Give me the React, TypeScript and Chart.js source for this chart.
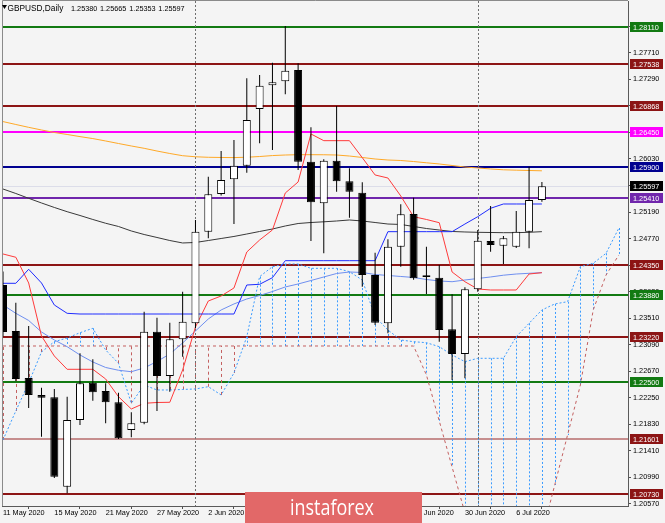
import React, { useEffect, useRef } from "react";
import { Chart, registerables } from "chart.js";

Chart.register(...registerables);

const dates = [
  "11 May 2020", "12 May 2020", "13 May 2020", "14 May 2020", "15 May 2020",
  "18 May 2020", "19 May 2020", "20 May 2020", "21 May 2020", "22 May 2020",
  "25 May 2020", "26 May 2020", "27 May 2020", "28 May 2020", "29 May 2020",
  "1 Jun 2020", "2 Jun 2020", "3 Jun 2020", "4 Jun 2020", "5 Jun 2020",
  "8 Jun 2020", "9 Jun 2020", "10 Jun 2020", "11 Jun 2020", "12 Jun 2020",
  "15 Jun 2020", "16 Jun 2020", "17 Jun 2020", "18 Jun 2020", "19 Jun 2020",
  "22 Jun 2020", "23 Jun 2020", "24 Jun 2020", "25 Jun 2020", "26 Jun 2020",
  "29 Jun 2020", "30 Jun 2020", "1 Jul 2020", "2 Jul 2020", "3 Jul 2020",
  "6 Jul 2020", "7 Jul 2020", "8 Jul 2020",
];

const opens = [1.24035, 1.23307, 1.22564, 1.22295, 1.22258, 1.20844, 1.21899, 1.22489, 1.22358, 1.22179,
  1.21741, 1.21856, 1.23296, 1.22595, 1.23176, 1.23429, 1.24879, 1.25475, 1.25708, 1.25923,
  1.26820, 1.27195, 1.27258, 1.27437, 1.25986, 1.25328, 1.26002, 1.25676, 1.25496, 1.24193,
  1.23429, 1.24641, 1.25159, 1.24160, 1.24151, 1.23334, 1.22943, 1.23967, 1.24731, 1.24657,
  1.24641, 1.24878, 1.25380];
const highs = [1.24250, 1.23755, 1.23386, 1.22410, 1.22390, 1.22268, 1.22955, 1.22860, 1.22480, 1.22332,
  1.22021, 1.23613, 1.23518, 1.23439, 1.23929, 1.25064, 1.25749, 1.26155, 1.26330, 1.27306,
  1.27358, 1.27553, 1.28133, 1.27543, 1.26531, 1.26024, 1.26867, 1.25882, 1.25660, 1.24546,
  1.24758, 1.25312, 1.25417, 1.24641, 1.24352, 1.23888, 1.23999, 1.24905, 1.25285, 1.24811,
  1.25206, 1.25907, 1.25665];
const lows = [1.23220, 1.22516, 1.22089, 1.21635, 1.20981, 1.20739, 1.21820, 1.22205, 1.21846, 1.21600,
  1.21625, 1.21831, 1.22041, 1.22347, 1.22901, 1.23350, 1.24774, 1.25450, 1.25000, 1.25812,
  1.26277, 1.26171, 1.27053, 1.25855, 1.24731, 1.24537, 1.25512, 1.25100, 1.24009, 1.23402,
  1.23271, 1.24325, 1.24120, 1.23893, 1.23138, 1.22532, 1.22559, 1.23930, 1.24562, 1.24367,
  1.24620, 1.24616, 1.25353];
const closes = [1.23292, 1.22548, 1.22295, 1.22252, 1.20999, 1.21899, 1.22480, 1.22337, 1.22179, 1.21610,
  1.21847, 1.23296, 1.22595, 1.23176, 1.23455, 1.24879, 1.25470, 1.25697, 1.25923, 1.26646,
  1.27189, 1.27242, 1.27426, 1.25986, 1.25344, 1.26002, 1.25676, 1.25512, 1.24193, 1.23439,
  1.24641, 1.25154, 1.24141, 1.24190, 1.23323, 1.22943, 1.23967, 1.24736, 1.24668, 1.24774,
  1.24878, 1.25380, 1.25597];

const tenkan = [1.24526, 1.24474, 1.24067, 1.23228, 1.22912, 1.22701, 1.22701, 1.22701, 1.22548, 1.22268,
  1.22073, 1.22163, 1.22176, 1.22179, 1.22690, 1.23371, 1.23782, 1.23861, 1.23988, 1.24557,
  1.24747, 1.24906, 1.25491, 1.25665, 1.26425, 1.26319, 1.26319, 1.26319, 1.26050, 1.25776,
  1.25728, 1.25444, 1.25116, 1.25072, 1.25021, 1.24241, 1.24087, 1.23972, 1.23956, 1.23956,
  1.23956, 1.24209, 1.24230];
const kijun = [1.24062, 1.24062, 1.24284, 1.24067, 1.23719, 1.23587, 1.23576, 1.23576, 1.23576, 1.23576,
  1.23576, 1.23576, 1.23576, 1.23576, 1.23576, 1.23576, 1.23576, 1.23576, 1.23576, 1.24035,
  1.24046, 1.24151, 1.24420, 1.24420, 1.24420, 1.24420, 1.24420, 1.24420, 1.24420, 1.24420,
  1.24879, 1.24879, 1.24879, 1.24879, 1.24879, 1.24879, 1.25000, 1.25116, 1.25249, 1.25317,
  1.25317, 1.25317, 1.25317];
const spanA = [1.21583, 1.22042, 1.22485, 1.22975, 1.23138, 1.23197, 1.23280, 1.23350, 1.23007, 1.22796,
  1.22163, 1.22453, 1.22374, 1.22374, 1.22382, 1.22390, 1.22426, 1.22295, 1.22643, 1.23217,
  1.24167, 1.24325, 1.24368, 1.24368, 1.24299, 1.24299, 1.24299, 1.24246, 1.24114, 1.23534,
  1.23323, 1.23165, 1.23138, 1.23122, 1.23059, 1.22928, 1.22822, 1.22875, 1.22875, 1.22875,
  1.23217, 1.23429, 1.23640, 1.23735, 1.23771, 1.24325, 1.24379, 1.24537, 1.24937];
const spanB = [1.2307, 1.2307, 1.2307, 1.2307, 1.2307, 1.2307, 1.2307, 1.2307, 1.2307, 1.2307,
  1.2307, 1.2307, 1.2307, 1.2307, 1.2307, 1.2307, 1.2307, 1.2307, 1.2307, 1.2307,
  1.2307, 1.2307, 1.2307, 1.2307, 1.2307, 1.2307, 1.2307, 1.2307, 1.2307, 1.2307,
  1.2307, 1.2307, 1.2307, 1.22611, 1.21883, 1.21155, 1.20428, 1.2000, 1.2000, 1.2000,
  1.2000, 1.2000, 1.20079, 1.20871, 1.21662, 1.22453, 1.23640, 1.24193, 1.24510];

const maOrange = [1.26621, 1.26575, 1.26530, 1.26488, 1.26448, 1.26417, 1.26383, 1.26352, 1.26314, 1.26274,
  1.26235, 1.26198, 1.26155, 1.26116, 1.26081, 1.26064, 1.26056, 1.26053, 1.26051, 1.26057,
  1.26068, 1.26083, 1.26092, 1.26097, 1.26097, 1.26096, 1.26092, 1.26076, 1.26053, 1.26029,
  1.26013, 1.26005, 1.25989, 1.25969, 1.25950, 1.25926, 1.25902, 1.25887, 1.25871, 1.25858,
  1.25852, 1.25847, 1.25842];
const maBlack = [1.25554, 1.25483, 1.25407, 1.25333, 1.25262, 1.25195, 1.25135, 1.25072, 1.25012, 1.24961,
  1.24890, 1.24834, 1.24787, 1.24739, 1.24700, 1.24708, 1.24739, 1.24771, 1.24803, 1.24842,
  1.24882, 1.24921, 1.24969, 1.25008, 1.25024, 1.25035, 1.25048, 1.25064, 1.25048, 1.25024,
  1.25000, 1.24993, 1.24961, 1.24929, 1.24905, 1.24882, 1.24874, 1.24869, 1.24866, 1.24863,
  1.24863, 1.24869, 1.24879];
const maBlue = [1.23719, 1.23587, 1.23474, 1.23292, 1.23165, 1.23059, 1.22928, 1.22817, 1.22730, 1.22686,
  1.22663, 1.22722, 1.22825, 1.22943, 1.23118, 1.23307, 1.23497, 1.23640, 1.23735, 1.23814,
  1.23869, 1.23932, 1.24004, 1.24051, 1.24106, 1.24162, 1.24217, 1.24241, 1.24233, 1.24201,
  1.24186, 1.24170, 1.24154, 1.24122, 1.24099, 1.24087, 1.24114, 1.24138, 1.24162, 1.24190,
  1.24209, 1.24220, 1.24230];

const levelPrices = [1.2811, 1.27538, 1.26868, 1.2645, 1.259, 1.2541, 1.2435, 1.2388, 1.2322, 1.225, 1.21601, 1.2073];
const levelLineColors = ["#127a12", "#8c1414", "#8c1414", "#ff00ff", "#000090", "#7026ac", "#8c1414", "#127a12", "#8c1414", "#127a12", "#c68e8e", "#8c1414"];
const levelBoxColors = ["#127a12", "#8c1414", "#8c1414", "#ff00ff", "#000090", "#7026ac", "#8c1414", "#127a12", "#8c1414", "#127a12", "#8c1414", "#8c1414"];
const lastPrice = 1.25597;

const priceTicks = [1.2057, 1.2099, 1.2141, 1.2183, 1.2225, 1.2267, 1.2309, 1.2351, 1.2393, 1.2435,
  1.2477, 1.2519, 1.2561, 1.2603, 1.2645, 1.2687, 1.2729, 1.2771, 1.2813];
const dateTicks = [0, 4, 8, 12, 16, 20, 24, 28, 32, 36, 40];
const monthStarts = [15, 37];

const titleName = "GBPUSD,Daily";
const titleValues = ["1.25380", "1.25665", "1.25353", "1.25597"];

const AXIS_FONT = '7.3px "Liberation Sans", Arial, sans-serif';

const mt4Plugin = {
  id: "mt4",
  beforeDraw(chart: any) {
    const ctx = chart.ctx;
    ctx.save();
    ctx.fillStyle = "#f4f4f4";
    ctx.fillRect(0, 0, chart.width, chart.height);
    ctx.restore();
  },
  beforeDatasetsDraw(chart: any) {
    const { ctx, chartArea: a, scales } = chart;
    const xs = scales.x;
    const ys = scales.y;
    ctx.save();
    ctx.beginPath();
    ctx.rect(a.left, a.top, a.right - a.left, a.bottom - a.top);
    ctx.clip();

    levelPrices.forEach((p, k) => {
      const yp = Math.round(ys.getPixelForValue(p));
      ctx.fillStyle = levelLineColors[k];
      ctx.fillRect(a.left, yp - 1, a.right - a.left, 2);
    });

    const yc = Math.round(ys.getPixelForValue(lastPrice)) + 0.5;
    ctx.strokeStyle = "#dcdde9";
    ctx.lineWidth = 1;
    ctx.beginPath();
    ctx.moveTo(a.left, yc);
    ctx.lineTo(a.right, yc);
    ctx.stroke();

    for (let i = 0; i < spanA.length; i++) {
      const px = Math.round(xs.getPixelForValue(i)) + 0.5;
      const ya = ys.getPixelForValue(spanA[i]);
      const yb = ys.getPixelForValue(spanB[i]);
      const up = spanA[i] >= spanB[i];
      ctx.strokeStyle = up ? "#3c9cff" : "#c46060";
      ctx.setLineDash(up ? [2, 2] : [3, 3]);
      ctx.beginPath();
      ctx.moveTo(px, ya);
      ctx.lineTo(px, yb);
      ctx.stroke();
    }

    ctx.strokeStyle = "#6e6e6e";
    ctx.setLineDash([2, 2]);
    monthStarts.forEach((m) => {
      const px = Math.round(xs.getPixelForValue(m)) + 0.5;
      ctx.beginPath();
      ctx.moveTo(px, a.top);
      ctx.lineTo(px, a.bottom);
      ctx.stroke();
    });
    ctx.setLineDash([]);
    ctx.restore();
  },
  afterDraw(chart: any) {
    const { ctx, chartArea: a, scales } = chart;
    const ys = scales.y;
    ctx.save();
    ctx.strokeStyle = "#8a8a8a";
    ctx.lineWidth = 1;
    ctx.beginPath();
    ctx.moveTo(a.left + 0.5, a.bottom);
    ctx.lineTo(a.left + 0.5, a.top - 0.5);
    ctx.lineTo(a.right, a.top - 0.5);
    ctx.stroke();

    ctx.font = AXIS_FONT;
    ctx.textBaseline = "middle";
    ctx.textAlign = "left";
    const box = (p: number, color: string) => {
      const yp = Math.round(ys.getPixelForValue(p));
      ctx.fillStyle = color;
      ctx.fillRect(a.right + 2, yp - 5, 33, 10);
      ctx.fillStyle = "#ffffff";
      ctx.fillText(p.toFixed(5), a.right + 5, yp + 0.5);
    };
    levelPrices.forEach((p, k) => box(p, levelBoxColors[k]));
    box(lastPrice, "#000000");

    ctx.fillStyle = "#000000";
    ctx.beginPath();
    ctx.moveTo(2, 5);
    ctx.lineTo(7, 5);
    ctx.lineTo(4.5, 9);
    ctx.closePath();
    ctx.fill();
    ctx.textBaseline = "alphabetic";
    ctx.font = '8.3px "Liberation Sans", Arial, sans-serif';
    ctx.fillText(titleName, 7.5, 10.5);
    ctx.font = AXIS_FONT;
    const tx = [71, 100, 129.3, 158.3];
    titleValues.forEach((t, k) => ctx.fillText(t, tx[k], 10.5));

    ctx.fillStyle = "#e26868";
    ctx.fillRect(245, 492, 177, 31);
    ctx.fillStyle = "#ffffff";
    ctx.font = '21px "Open Sans", "Noto Sans", sans-serif';
    ctx.textAlign = "left";
    const w = ctx.measureText("instaforex").width;
    ctx.translate(290, 514.5);
    ctx.scale(84 / w, 1);
    ctx.fillText("instaforex", 0, 0);
    ctx.restore();
  },
};

export default function App() {
  const ref = useRef<HTMLCanvasElement | null>(null);

  useEffect(() => {
    if (!ref.current) return;
    const idx = (arr: number[]) => arr.map((v, i) => ({ x: i, y: v }));
    const line = (data: number[], color: string, order: number, dash: number[] = []) => ({
      type: "line" as const,
      data: idx(data),
      borderColor: color,
      borderWidth: 1,
      borderDash: dash,
      pointRadius: 0,
      tension: 0,
      fill: false,
      order,
    });

    const chart = new Chart(ref.current, {
      type: "bar",
      data: {
        datasets: [
          {
            type: "bar",
            label: "body",
            data: opens.map((o, i) => ({ x: i, y: [o, closes[i]] })) as any,
            backgroundColor: opens.map((o, i) => (closes[i] >= o ? "#ffffff" : "#000000")),
            borderColor: "#000000",
            borderWidth: 1,
            borderSkipped: false,
            barThickness: 8,
            grouped: false,
            inflateAmount: 0,
            order: 0,
          } as any,
          {
            type: "bar",
            label: "wick",
            data: highs.map((h, i) => ({ x: i, y: [lows[i], h] })) as any,
            backgroundColor: "#000000",
            borderWidth: 0,
            barThickness: 1,
            grouped: false,
            inflateAmount: 0,
            order: 1,
          } as any,
          line(spanA, "#3c9cff", 5, [2, 2]) as any,
          line(spanB, "#c46060", 5, [3, 3]) as any,
          line(maOrange, "#ffa928", 4) as any,
          line(maBlack, "#3a3a3a", 4) as any,
          line(maBlue, "#6f8ff0", 3) as any,
          line(kijun, "#1f2cff", 2) as any,
          line(tenkan, "#ff3b3b", 2) as any,
        ],
      },
      options: {
        responsive: false,
        maintainAspectRatio: false,
        devicePixelRatio: 1,
        animation: false,
        layout: { padding: { left: 2, top: 1, right: 0, bottom: 0 } },
        plugins: { legend: { display: false }, tooltip: { enabled: false } },
        scales: {
          x: {
            type: "linear",
            min: -0.078,
            max: 48.71,
            offset: false,
            grid: { display: true, drawOnChartArea: false, drawTicks: true, tickLength: 3, color: "#505050" },
            border: { display: true, color: "#5a5a5a" },
            ticks: {
              autoSkip: false,
              maxRotation: 0,
              align: "start",
              padding: 0,
              color: "#000000",
              font: { family: '"Liberation Sans", Arial, sans-serif', size: 7.3 },
              callback: (v: any) => dates[Number(v)] ?? "",
            },
            afterBuildTicks: (s: any) => {
              s.ticks = dateTicks.map((v) => ({ value: v }));
            },
            afterFit: (s: any) => {
              s.height = 17;
              s.paddingLeft = 0;
              s.paddingRight = 0;
            },
          },
          y: {
            type: "linear",
            position: "right",
            min: 1.20538,
            max: 1.28529,
            grid: { display: true, drawOnChartArea: false, drawTicks: true, tickLength: 3, color: "#505050" },
            border: { display: true, color: "#5a5a5a" },
            ticks: {
              autoSkip: false,
              padding: 2,
              color: "#000000",
              font: { family: '"Liberation Sans", Arial, sans-serif', size: 7.3 },
              callback: (v: any) => Number(v).toFixed(5),
            },
            afterBuildTicks: (s: any) => {
              s.ticks = priceTicks.map((v) => ({ value: v }));
            },
            afterFit: (s: any) => {
              s.width = 37;
              s.paddingTop = 0;
              s.paddingBottom = 0;
            },
          },
        },
      } as any,
      plugins: [mt4Plugin],
    });
    return () => chart.destroy();
  }, []);

  return (
    <div style={{ position: "fixed", left: 0, top: 0, width: 665, height: 523, background: "#f4f4f4" }}>
      <canvas ref={ref} width={665} height={523} style={{ display: "block", width: 665, height: 523 }} />
    </div>
  );
}
